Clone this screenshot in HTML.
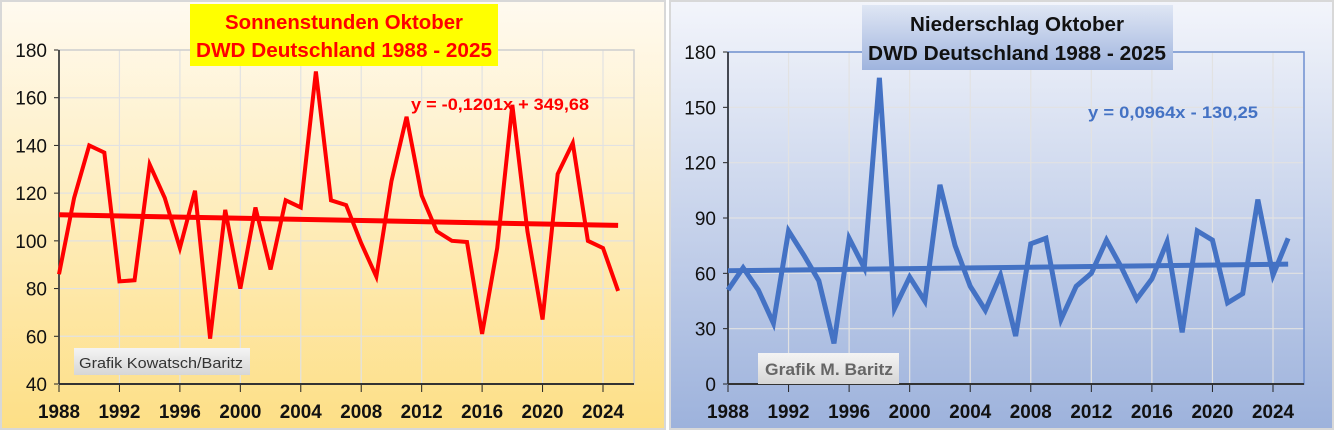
<!DOCTYPE html>
<html><head><meta charset="utf-8"><style>
body{margin:0;width:1335px;height:432px;overflow:hidden;background:#fff;position:relative}
svg{display:block;font-family:"Liberation Sans",sans-serif}
</style></head><body>
<svg id="s" width="1335" height="432">
<defs>
<linearGradient id="gy" x1="0" y1="0" x2="0" y2="1"><stop offset="0" stop-color="#fffaf0"/><stop offset="1" stop-color="#fddf86"/></linearGradient>
<linearGradient id="gb" x1="0" y1="0" x2="0" y2="1"><stop offset="0" stop-color="#f3f5fb"/><stop offset="1" stop-color="#9db2dc"/></linearGradient>
<linearGradient id="gt" x1="0" y1="0" x2="0" y2="1"><stop offset="0" stop-color="#dfe6f4"/><stop offset="1" stop-color="#9fb4de"/></linearGradient>
<linearGradient id="gc" x1="0" y1="0" x2="0" y2="1"><stop offset="0" stop-color="#f4f4f4"/><stop offset="1" stop-color="#d6d6d6"/></linearGradient>
</defs>
<rect x="1" y="1" width="664" height="428" fill="url(#gy)" stroke="#d8d8d8" stroke-width="2"/>
<rect x="670" y="1" width="663" height="428" fill="url(#gb)" stroke="#d8d8d8" stroke-width="2"/>
<g id="L"></g><g id="R"></g>
<g>
<rect x="190" y="4" width="308" height="62" fill="#ffff00"/>
<text x="344" y="29" text-anchor="middle" font-size="20" font-weight="bold" fill="#ff0000" textLength="238" lengthAdjust="spacingAndGlyphs">Sonnenstunden Oktober</text>
<text x="344" y="57" text-anchor="middle" font-size="20" font-weight="bold" fill="#ff0000" textLength="296" lengthAdjust="spacingAndGlyphs">DWD Deutschland 1988 - 2025</text>
</g>
<text x="411" y="110" font-size="17" font-weight="bold" fill="#ff0000" textLength="178" lengthAdjust="spacingAndGlyphs">y = -0,1201x + 349,68</text>
<g><rect x="74" y="348" width="176" height="27" fill="url(#gc)"/>
<text x="79" y="368" font-size="15" fill="#333" textLength="164" lengthAdjust="spacingAndGlyphs">Grafik Kowatsch/Baritz</text></g>
<g>
<rect x="862" y="5" width="311" height="65" fill="url(#gt)"/>
<text x="1017" y="31" text-anchor="middle" font-size="20" font-weight="bold" fill="#111" textLength="214" lengthAdjust="spacingAndGlyphs">Niederschlag Oktober</text>
<text x="1017" y="60" text-anchor="middle" font-size="20" font-weight="bold" fill="#111" textLength="298" lengthAdjust="spacingAndGlyphs">DWD Deutschland 1988 - 2025</text>
</g>
<text x="1088" y="118" font-size="17" font-weight="bold" fill="#4472c4" textLength="170" lengthAdjust="spacingAndGlyphs">y = 0,0964x - 130,25</text>
<g><rect x="758" y="353" width="141" height="31" fill="url(#gc)"/>
<text x="765" y="375" font-size="17" font-weight="bold" fill="#666" textLength="128" lengthAdjust="spacingAndGlyphs">Grafik M. Baritz</text></g>
</svg>
<script>
const years=[];for(let y=1988;y<=2025;y++)years.push(y);
const sunValues=[86,118,140,137,83,83.5,132,118,97,121,59,113,80,114,88,117,114,171,117,115,99,85,125,152,119,104,100,99.5,61,97,157,104,67,128,141,100,97,79];
const rainValues=[51,63,51,33,83,70,56,22,79,63,166,41,58,45,108,75,53,40,59,26,76,79,35,53,60,78,63,46,57,77,28,83,78,44,49,100,59,79];
const sunTicks=[40,60,80,100,120,140,160,180];
const rainTicks=[0,30,60,90,120,150,180];
const xTicks=[1988,1992,1996,2000,2004,2008,2012,2016,2020,2024];
const sunTrend=[-0.1201,349.68];
const rainTrend=[0.0964,-130.25];
const NS="http://www.w3.org/2000/svg";
function mk(p,t,a,txt){const e=document.createElementNS(NS,t);for(const k in a)e.setAttribute(k,a[k]);if(txt!==undefined)e.textContent=txt;p.appendChild(e);return e;}
function chart(g,o){
 const X=y=>o.x0+(y-1988)*(o.x1-o.x0)/36;
 const Y=v=>o.yb-(v-o.ymin)*(o.yb-o.yt)/(o.ymax-o.ymin);
 o.yt_ticks.forEach(t=>{const l=mk(g,'line',{x1:o.x0,x2:o.xr,y1:Y(t),y2:Y(t),stroke:'#e2e2e2','stroke-width':1.2});
  
  const tx=mk(g,'text',{x:o.x0-12,y:Y(t)+7,'text-anchor':'end','font-size':19,fill:'#111'},t);
  
  mk(g,'line',{x1:o.x0-5,x2:o.x0,y1:Y(t),y2:Y(t),stroke:'#222'});});
 xTicks.forEach(t=>{const l=mk(g,'line',{x1:X(t),x2:X(t),y1:o.yt,y2:o.yb,stroke:'#e2e2e2','stroke-width':1.2});
  
  mk(g,'line',{x1:X(t),x2:X(t),y1:o.yb,y2:o.yb+8,stroke:'#222'});
  const tx=mk(g,'text',{x:X(t),y:o.yb+34,'text-anchor':'middle','font-size':19,'font-weight':'bold',fill:'#111',textLength:42,lengthAdjust:'spacingAndGlyphs'},t);
  });
 mk(g,'rect',{x:o.x0,y:o.yt,width:o.xr-o.x0,height:o.yb-o.yt,fill:'none',stroke:o.frame,'stroke-width':1.5});
 mk(g,'line',{x1:o.x0,x2:o.x0,y1:o.yt,y2:o.yb,stroke:'#222','stroke-width':1.5});
 mk(g,'line',{x1:o.x0,x2:o.xr,y1:o.yb,y2:o.yb,stroke:'#333','stroke-width':2});
 const tl=mk(g,'line',{x1:X(1988),y1:Y(o.tr[0]*1988+o.tr[1]),x2:X(2025),y2:Y(o.tr[0]*2025+o.tr[1]),stroke:o.col,'stroke-width':5});
 
 const pl=mk(g,'polyline',{points:o.vals.map((v,i)=>X(years[i])+','+Y(v)).join(' '),fill:'none',stroke:o.col,'stroke-width':o.lw,'stroke-linejoin':'miter'});
 
}
const L=document.getElementById('L'),R=document.getElementById('R');
chart(L,{x0:59,x1:603,xr:634,yt:50,yb:384,ymin:40,ymax:180,yt_ticks:sunTicks,vals:sunValues,tr:sunTrend,col:'#ff0000',lw:4,frame:'#cfcfcf'});
chart(R,{x0:728,x1:1273,xr:1304,yt:52,yb:384,ymin:0,ymax:180,yt_ticks:rainTicks,vals:rainValues,tr:rainTrend,col:'#4472c4',lw:5,frame:'#6f8fd0'});
</script>
</body></html>
